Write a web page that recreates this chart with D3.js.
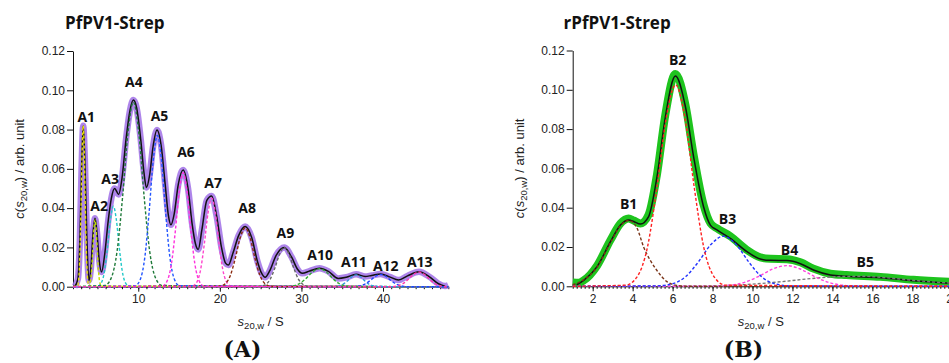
<!DOCTYPE html>
<html lang="en">
<meta charset="utf-8">
<head>
<script src="https://cdn.jsdelivr.net/npm/d3@7"></script>
<style>
  body { margin: 0; background: #fff; }
  svg text { font-family: "Liberation Sans", Arial, sans-serif; }
  .tick text { font-size: 12px; fill: #222; }
  .peak { font-family: "Open Sans", sans-serif; font-weight: bold; font-size: 14px; fill: #111; }
  .title { font-family: "Open Sans", sans-serif; font-weight: bold; font-size: 17px; fill: #111; }
  .letter { font-family: "DejaVu Serif", serif; font-weight: bold; font-size: 22px; fill: #111; }
</style>
</head>
<body>
<svg id="chart" width="949" height="363"></svg>
<script>
// ---- panel A : PfPV1-Strep  (s in S, c in arb. unit)
var fitA = [[2.2,0],[2.6,0.004],[2.85,0.025],[3.05,0.06],[3.25,0.082],[3.45,0.065],[3.7,0.025],[3.95,0.003],
  [4.2,0.010],[4.45,0.027],[4.7,0.0348],[4.95,0.027],[5.2,0.014],[5.5,0.0075],[5.9,0.017],[6.3,0.033],
  [6.7,0.045],[7.1,0.050],[7.6,0.047],[8.0,0.055],[8.5,0.075],[9.0,0.090],[9.4,0.095],[9.8,0.091],
  [10.3,0.075],[10.7,0.058],[11.0,0.0505],[11.4,0.057],[11.8,0.071],[12.3,0.0798],[12.8,0.072],[13.3,0.052],
  [13.7,0.036],[14.0,0.0315],[14.4,0.037],[14.9,0.052],[15.5,0.0594],[16.1,0.050],[16.6,0.032],[17.0,0.022],
  [17.35,0.019],[17.8,0.029],[18.4,0.044],[19.0,0.0462],[19.6,0.036],[20.2,0.020],[20.7,0.012],[21.05,0.011],
  [21.6,0.017],[22.3,0.026],[23.1,0.0306],[23.9,0.025],[24.6,0.013],[25.1,0.007],[25.55,0.0048],[26.1,0.008],
  [26.9,0.016],[27.9,0.020],[28.8,0.015],[29.5,0.009],[30.1,0.0068],[31.0,0.008],[32.2,0.0094],[33.3,0.0078],
  [34.5,0.0042],[35.5,0.0048],[36.7,0.0063],[37.8,0.0052],[38.6,0.0057],[39.7,0.0065],[40.8,0.0050],
  [41.9,0.0034],[43.0,0.0055],[44.4,0.0076],[45.7,0.005],[46.8,0.0015],[47.6,0.0003]];
var dataA = fitA.concat([[48,0.0008]]);

var compA1 = [[2,0],[2.55,0.0005],[2.70,0.0036],[2.85,0.0162],[2.99,0.040],[3.12,0.0685],[3.25,0.082],[3.38,0.0685],[3.51,0.040],[3.65,0.0162],[3.80,0.0036],[3.95,0.0005],[48,0]];
var compA2 = [[2,0],[3.9,0.0002],[4.075,0.0015],[4.25,0.0067],[4.4,0.0166],[4.55,0.0284],[4.7,0.034],[4.85,0.0284],[5.0,0.0166],[5.15,0.0067],[5.325,0.0015],[5.5,0.0002],[48,0]];
var compA3 = [[2,0],[5.03,0.0003],[5.45,0.0018],[5.87,0.0081],[6.23,0.020],[6.59,0.0342],[6.95,0.041],[7.31,0.0342],[7.67,0.020],[8.03,0.0081],[8.45,0.0018],[8.87,0.0003],[48,0]];
var compA4 = [[2,0],[5.88,0.0006],[6.65,0.0041],[7.42,0.0186],[8.08,0.0458],[8.74,0.0785],[9.4,0.094],[10.06,0.0785],[10.72,0.0458],[11.38,0.0186],[12.15,0.0041],[12.92,0.0006],[48,0]];
var compA5 = [[2,0],[9.62,0.0005],[10.215,0.0034],[10.81,0.0152],[11.32,0.0375],[11.83,0.0643],[12.34,0.077],[12.85,0.0643],[13.36,0.0375],[13.87,0.0152],[14.465,0.0034],[15.06,0.0005],[48,0]];
var compA6 = [[2,0],[12.94,0.0003],[13.5,0.0026],[14.06,0.0115],[14.54,0.0282],[15.02,0.0484],[15.5,0.058],[15.98,0.0484],[16.46,0.0282],[16.94,0.0115],[17.5,0.0026],[18.06,0.0003],[48,0]];
var compA7 = [[2,0],[16.6,0.0003],[17.125,0.002],[17.65,0.0089],[18.1,0.0219],[18.55,0.0376],[19.0,0.045],[19.45,0.0376],[19.9,0.0219],[20.35,0.0089],[20.875,0.002],[21.4,0.0003],[48,0]];
var compA8 = [[2,0],[19.9,0.0002],[20.6,0.0013],[21.3,0.0059],[21.9,0.0146],[22.5,0.025],[23.1,0.030],[23.7,0.025],[24.3,0.0146],[24.9,0.0059],[25.6,0.0013],[26.3,0.0002],[48,0]];
var compA9 = [[2,0],[24.86,0.0001],[25.525,0.0009],[26.19,0.004],[26.76,0.0097],[27.33,0.0167],[27.9,0.020],[28.47,0.0167],[29.04,0.0097],[29.61,0.004],[30.275,0.0009],[30.94,0.0001],[48,0]];
var compA10 = [[2,0],[28.04,0.0001],[28.95,0.0004],[29.86,0.0018],[30.64,0.0045],[31.42,0.0077],[32.2,0.0092],[32.98,0.0077],[33.76,0.0045],[34.54,0.0018],[35.45,0.0004],[36.36,0.0001],[48,0]];
var compA11 = [[2,0],[33.82,0],[34.45,0.0003],[35.08,0.0012],[35.62,0.0029],[36.16,0.005],[36.7,0.006],[37.24,0.005],[37.78,0.0029],[38.32,0.0012],[38.95,0.0003],[39.58,0],[48,0]];
var compA12 = [[2,0],[36.18,0],[36.95,0.0003],[37.72,0.0012],[38.38,0.003],[39.04,0.0052],[39.7,0.0062],[40.36,0.0052],[41.02,0.003],[41.68,0.0012],[42.45,0.0003],[43.22,0],[48,0]];
var compA13 = [[2,0],[40.88,0],[41.65,0.0003],[42.42,0.0015],[43.08,0.0037],[43.74,0.0063],[44.4,0.0075],[45.06,0.0063],[45.72,0.0037],[46.38,0.0015],[47.15,0.0003],[47.92,0],[48,0]];
var compsA = [compA1, compA2, compA3, compA4, compA5, compA6, compA7, compA8, compA9, compA10, compA11, compA12, compA13];
var colorsA = ["#e8e000", "#c4e000", "#22c8c8", "#1f7a3a", "#2255ff", "#ff33dd", "#ff44cc", "#8b2a10", "#666666", "#33aa33", "#3399dd", "#2244ff", "#ff33aa"];
var namesA = ["A1","A2","A3","A4","A5","A6","A7","A8","A9","A10","A11","A12","A13"];
var labelPosA = [[3.62,0.0841],[5.21,0.0387],[6.56,0.0523],[9.47,0.1017],[12.6,0.0844],[15.85,0.0658],[19.17,0.0503],
  [23.34,0.0374],[28.04,0.0246],[32.3,0.0136],[36.43,0.0102],[40.33,0.0081],[44.5,0.0102]];
var ticksA = [10, 20, 30, 40];

// ---- panel B : rPfPV1-Strep
var fitB = [[1.2,0.0008],[1.55,0.003],[2.22,0.010],[2.89,0.0227],[3.39,0.0312],[3.8,0.0338],[4.05,0.033],[4.39,0.0317],
  [4.8,0.0355],[5.22,0.0558],[5.64,0.0864],[6.14,0.107],[6.64,0.0915],[7.05,0.066],[7.55,0.0405],[7.9,0.031],
  [8.22,0.0287],[8.89,0.0244],[9.72,0.0176],[10.39,0.0139],[10.9,0.0132],[11.72,0.0131],[12.4,0.0115],[13.05,0.0083],
  [13.9,0.0058],[14.7,0.0051],[16.4,0.0044],[18.05,0.0028],[20,0.0015]];
var dataB = [[1,0.002],[1.3,0.0018],[1.55,0.003],[2.22,0.0105],[2.89,0.0235],[3.39,0.032],[3.8,0.0345],[4.05,0.0335],
  [4.39,0.032],[4.8,0.0365],[5.22,0.057],[5.64,0.0875],[6.14,0.108],[6.64,0.0925],[7.05,0.067],[7.55,0.0415],
  [7.9,0.032],[8.22,0.0295],[8.89,0.0255],[9.72,0.0185],[10.39,0.0147],[10.9,0.014],[11.72,0.0138],[12.4,0.0122],
  [13.05,0.009],[13.9,0.0064],[14.7,0.0057],[16.4,0.0048],[18.05,0.0033],[20,0.0022]];

var compB1 = [[1,0.0008],[1.5,0.003],[2.2,0.0095],[2.9,0.0225],[3.4,0.031],[3.8,0.0335],[4.2,0.030],[4.55,0.020],[5.2,0.0083],[5.7,0.0025],[6.2,0.0005],[6.8,0],[20,0]];
var compB2 = [[1,0],[3.65,0.0006],[4.2,0.0045],[4.75,0.0203],[5.21,0.0499],[5.68,0.0856],[6.15,0.1025],[6.62,0.0856],[7.09,0.0499],[7.55,0.0203],[8.1,0.0045],[8.65,0.0006],[20,0]];
var compB3 = [[1,0],[5.19,0.0002],[5.925,0.0011],[6.66,0.005],[7.29,0.0124],[7.92,0.0213],[8.55,0.0255],[9.18,0.0213],[9.81,0.0124],[10.44,0.005],[11.175,0.0011],[11.91,0.0002],[20,0]];
var compB4 = [[1,0],[8.02,0.0001],[8.825,0.0005],[9.63,0.0021],[10.32,0.0051],[11.01,0.0088],[11.7,0.0105],[12.39,0.0088],[13.08,0.0051],[13.77,0.0021],[14.575,0.0005],[15.38,0.0001],[20,0]];
var compB5 = [[1,0],[7,0],[8.5,0.0003],[10,0.0011],[11.5,0.0024],[13,0.004],[14.5,0.005],[15.5,0.0051],[16.5,0.0045],[18,0.0031],[19,0.0022],[20,0.0016]];
var compsB = [compB5, compB4, compB3, compB1, compB2];
var colorsB = ["#777777", "#ff44dd", "#2233ff", "#7a3418", "#ff2020"];
var namesB = ["B1","B2","B3","B4","B5"];
var labelPosB = [[3.8,0.0394],[6.25,0.1127],[8.75,0.0317],[11.85,0.0159],[15.64,0.0100]];
var ticksB = [2, 4, 6, 8, 10, 12, 14, 16, 18, 20];

var yTicks = [0, 0.02, 0.04, 0.06, 0.08, 0.10, 0.12];

var svg = d3.select("#chart");

function drawPanel(p) {
  var x = d3.scaleLinear().domain(p.xDomain).range(p.xRange);
  var y = d3.scaleLinear().domain([0, 0.12]).range([p.yBottom, p.yTop]);
  var g = svg.append("g");
  var line = d3.line().x(function(d){ return x(d[0]); }).y(function(d){ return y(d[1]); })
    .curve(d3.curveMonotoneX);

  // axes
  g.append("g").attr("transform", "translate(0," + p.yBottom + ")")
    .call(d3.axisBottom(x).tickValues(p.minor).tickFormat("").tickSize(2.5).tickSizeOuter(0))
    .call(function(a){ a.select(".domain").remove(); });
  g.append("g").attr("transform", "translate(0," + p.yBottom + ")")
    .call(d3.axisBottom(x).tickValues(p.major).tickSize(5).tickSizeOuter(0).tickPadding(3));
  g.append("g").attr("transform", "translate(" + p.xRange[0] + ",0)")
    .call(d3.axisLeft(y).tickValues(yTicks).tickFormat(d3.format(".2f")).tickSize(6).tickSizeOuter(0).tickPadding(2));
  g.selectAll(".domain, .tick line").attr("stroke", "#111").attr("stroke-width", 1);

  // raw data band, fit, components
  g.append("path").datum(p.data).attr("d", line).attr("fill", "none")
    .attr("stroke", p.bandColor).attr("stroke-width", p.bandWidth).attr("stroke-linejoin", "round")
    .attr("stroke-opacity", p.bandOpacity);
  g.append("path").datum(p.fit).attr("d", line).attr("fill", "none")
    .attr("stroke", "#111").attr("stroke-width", 1.5);
  p.comps.forEach(function(c, i) {
    g.append("path").datum(c).attr("d", line).attr("fill", "none")
      .attr("stroke", p.colors[i]).attr("stroke-width", 1.4).attr("stroke-dasharray", "3,2");
  });

  // peak labels
  g.selectAll("text.peak").data(p.labels).enter().append("text")
    .attr("class", "peak").attr("text-anchor", "middle")
    .attr("x", function(d){ return x(d[0]); }).attr("y", function(d){ return y(d[1]); })
    .text(function(d, i){ return p.names[i]; });

  // titles and axis labels
  g.append("text").attr("class", "title").attr("x", p.titleX).attr("y", 28.5).text(p.title);
  g.append("text").attr("class", "letter").attr("text-anchor", "middle")
    .attr("x", p.letterX).attr("y", 357).text(p.letter);

  var xl = g.append("text").attr("text-anchor", "middle").attr("font-size", 13).attr("fill", "#222")
    .attr("x", (p.xRange[0] + Math.min(p.xRange[1], 949)) / 2 + p.xLabelShift).attr("y", 326);
  xl.append("tspan").attr("font-style", "italic").text("s");
  xl.append("tspan").attr("font-size", 9.5).attr("dy", 3).text("20,w");
  xl.append("tspan").attr("dy", -3).text(" / S");

  var yl = g.append("text").attr("text-anchor", "middle").attr("font-size", 13).attr("fill", "#222")
    .attr("transform", "translate(" + p.yLabelX + "," + ((p.yTop + p.yBottom) / 2) + ") rotate(-90)");
  yl.append("tspan").attr("font-style", "italic").text("c");
  yl.append("tspan").text("(");
  yl.append("tspan").attr("font-style", "italic").text("s");
  yl.append("tspan").attr("font-size", 9.5).attr("dy", 3).text("20,w");
  yl.append("tspan").attr("dy", -3).text(") / arb. unit");
}

drawPanel({
  xDomain: [2, 48], xRange: [73, 448.3], yTop: 51, yBottom: 286.7,
  major: ticksA, minor: d3.range(2, 49, 1),
  data: dataA, fit: fitA, bandColor: "#a070e6", bandWidth: 6.5, bandOpacity: 0.85,
  comps: compsA, colors: colorsA, labels: labelPosA, names: namesA,
  title: "PfPV1-Strep", titleX: 65, letter: "(A)", letterX: 242.5, yLabelX: 24, xLabelShift: 0
});
drawPanel({
  xDomain: [1, 20], xRange: [572.7, 952.3], yTop: 50.5, yBottom: 286.3,
  major: ticksB, minor: d3.range(1, 20.1, 0.2),
  data: dataB, fit: fitB, bandColor: "#1ec41e", bandWidth: 8, bandOpacity: 1,
  comps: compsB, colors: colorsB, labels: labelPosB, names: namesB,
  title: "rPfPV1-Strep", titleX: 563.5, letter: "(B)", letterX: 743.5, yLabelX: 524, xLabelShift: 0
});
</script>
</body>
</html>
